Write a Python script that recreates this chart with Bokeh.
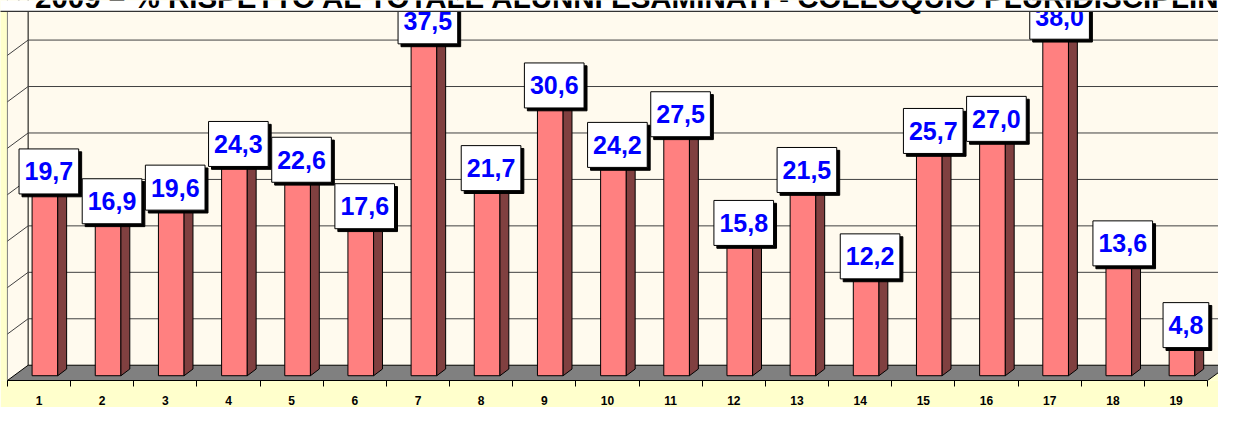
from bokeh.plotting import figure
from bokeh.models import LinearAxis, FixedTicker, ColumnDataSource
from bokeh.embed import file_html
from bokeh.resources import INLINE
from bokeh.core.properties import value

# ---------------- data ----------------
categories = [str(i) for i in range(1, 20)]
values = [19.7, 16.9, 19.6, 24.3, 22.6, 17.6, 37.5, 21.7, 30.6, 24.2,
          27.5, 15.8, 21.5, 12.2, 25.7, 27.0, 38.0, 13.6, 4.8]
grid_values = [5, 10, 15, 20, 25, 30, 35, 40]
title_text = "2009 – % RISPETTO AL TOTALE ALUNNI ESAMINATI - COLLOQUIO PLURIDISCIPLINARE"

# ---------------- geometry / style ----------------
W, H = 1218, 407
REF_W, REF_H = 1234, 423
SX, SY = W / REF_W, H / REF_H
CAT = 64.0        # reference px per category
K = 9.73          # reference px per value unit
FRONT0 = 393.0    # ref y of value 0 on the bars' front plane
FLOOR_Y = 398.0   # ref y of the floor front edge

YELLOW = "#FFFFCC"
CREAM = "#FFFAEE"
FLOOR = "#808080"
FRONT = "#FF8080"
SIDE = "#804040"


def dx(px):
    return px / CAT


def dv(px):
    return px / K


def v_at(ref_y):
    return (FRONT0 - ref_y) / K


x_start = 25 / CAT
x_end = (REF_W + 25) / CAT
v_start = v_at(FLOOR_Y)
v_end = v_at(0)
frame_h = round(FLOOR_Y * SY)

back_x = 0.5 + dx(21)
back_v0 = v_at(382)

p = figure(width=W, height=H, x_range=(x_start, x_end), y_range=(v_start, v_end),
           x_axis_type=None, y_axis_type=None, toolbar_location=None,
           output_backend="svg",
           min_border_left=0, min_border_right=0, min_border_top=0,
           min_border_bottom=H - frame_h,
           background_fill_color=YELLOW, border_fill_color=YELLOW,
           outline_line_color=None)

# back wall
p.quad(left=[back_x], right=[x_end + 1], bottom=[back_v0], top=[v_end + 2],
       fill_color=CREAM, line_color=None)
# left wall
p.patch([0.5, back_x, back_x, 0.5], [v_start, back_v0, v_end + 2, v_end + 2],
        fill_color=CREAM, line_color=None)
p.segment(x0=[0.5], y0=[v_start], x1=[0.5], y1=[v_end + 2], line_color="#7F7F7F", line_width=1)
p.segment(x0=[back_x], y0=[back_v0], x1=[back_x], y1=[v_end + 2], line_color="black", line_width=1)

# gridlines (back wall + left wall diagonals)
gx0 = [back_x] * len(grid_values)
gx1 = [x_end + 1] * len(grid_values)
gy = [g + back_v0 for g in grid_values]
p.segment(x0=gx0, y0=gy, x1=gx1, y1=gy, line_color="#404040", line_width=1)
p.segment(x0=[0.5] * len(grid_values), y0=[g + v_start for g in grid_values],
          x1=[back_x] * len(grid_values), y1=gy, line_color="#404040", line_width=1)

# floor
p.patch([0.5, 19.5, 19.5 + dx(21), 0.5 + dx(21)],
        [v_start, v_start, back_v0, back_v0],
        fill_color=FLOOR, line_color="black", line_width=1)

# bars
xs = list(range(1, len(values) + 1))
fl = [i - dx(7) for i in xs]
fr = [i + dx(19) for i in xs]
sd_x = dx(9)
sd_v = dv(7)
p.quad(left=fl, right=fr, bottom=[0] * len(xs), top=values,
       fill_color=FRONT, line_color="black", line_width=1)
side_xs = [[r, r + sd_x, r + sd_x, r] for r in fr]
side_ys = [[0, sd_v, v + sd_v, v] for v in values]
p.patches(side_xs, side_ys, fill_color=SIDE, line_color="black", line_width=1)
top_xs = [[l, r, r + sd_x, l + sd_x] for l, r in zip(fl, fr)]
top_ys = [[v, v, v + sd_v, v + sd_v] for v in values]
p.patches(top_xs, top_ys, fill_color=FRONT, line_color="black", line_width=1)

# data labels
LABEL_FONT = 25
label_lift = {0: 16, 1: 12}   # reference px nudges for overlapping labels
labels = [f"{v:.1f}".replace(".", ",") for v in values]


def text_w(s, size):
    return sum(0.278 if ch == "," else 0.556 for ch in s) * size


lx = [i + dx(10) for i in xs]
ly = [v + dv(6.3) + dv(label_lift.get(k, 0)) for k, v in enumerate(values)]
lw = [text_w(s, LABEL_FONT) + 11 for s in labels]
lh = [45] * len(labels)
src = ColumnDataSource(dict(x=lx, y=ly, w=lw, h=lh, text=labels,
                            sx=[x + dx(3) for x in lx], sy=[y - dv(3) for y in ly]))
p.rect(x="sx", y="sy", width="w", height="h", width_units="screen", height_units="screen",
       source=src, fill_color="black", line_color="black")
p.rect(x="x", y="y", width="w", height="h", width_units="screen", height_units="screen",
       source=src, fill_color="white", line_color="black", line_width=1)
p.text(x="x", y="y", text="text", source=src, text_align="center", text_baseline="middle",
       text_font=value("Liberation Sans"), text_font_style="bold",
       text_font_size=value(f"{LABEL_FONT}px"), text_color="#0000FF")

# top white title strip
strip_v = v_at(11.3)
p.quad(left=[x_start - 1], right=[x_end + 1], bottom=[strip_v], top=[v_end + 2],
       fill_color="white", line_color=None)
p.segment(x0=[x_start - 1], y0=[strip_v], x1=[x_end + 1], y1=[strip_v],
          line_color="#333333", line_width=1.2)
p.text(x=[(35 + 25) / CAT], y=[v_at(7.5)], text=[title_text], text_align="left",
       text_baseline="alphabetic", y_offset=-10, text_font=value("Liberation Sans"),
       text_font_style="bold", text_font_size=value("29.5px"), text_color="black")

# x axis
ticker = FixedTicker(ticks=xs, minor_ticks=[i + 0.5 for i in range(0, len(xs) + 1)])
xaxis = LinearAxis(ticker=ticker)
xaxis.bounds = (0.5, len(xs) + 0.5)
xaxis.major_label_overrides = {i: c for i, c in zip(xs, categories)}
xaxis.axis_line_color = "black"
xaxis.axis_line_width = 1
xaxis.major_tick_in = 0
xaxis.major_tick_out = 0
xaxis.minor_tick_in = 0
xaxis.minor_tick_out = 6
xaxis.minor_tick_line_color = "black"
xaxis.major_label_standoff = 9
xaxis.major_label_text_font = "Liberation Sans"
xaxis.major_label_text_font_style = "bold"
xaxis.major_label_text_font_size = "12px"
xaxis.major_label_text_color = "black"
p.add_layout(xaxis, "below")

open("out.html", "w").write(file_html(p, INLINE))
